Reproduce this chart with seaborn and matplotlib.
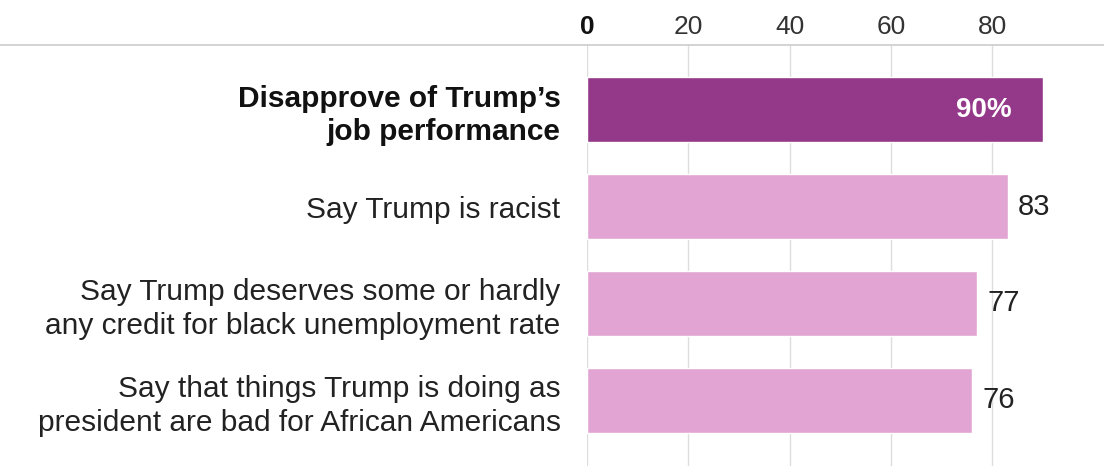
import matplotlib
matplotlib.use("Agg")
import matplotlib.pyplot as plt
import seaborn as sns
import pandas as pd

categories = [
    "Disapprove of Trump\u2019s\njob performance",
    "Say Trump is racist",
    "Say Trump deserves some or hardly\nany credit for black unemployment rate",
    "Say that things Trump is doing as\npresident are bad for African Americans",
]
values = [90, 83, 77, 76]
value_labels = ["90%", "83", "77", "76"]
xticks = [0, 20, 40, 60, 80]
bar_colors = ["#94398A", "#E2A5D3", "#E2A5D3", "#E2A5D3"]

sns.set_theme(style="white")
plt.rcParams["font.family"] = ["Liberation Sans", "DejaVu Sans"]

df = pd.DataFrame({"cat": categories, "val": values})

fig = plt.figure(figsize=(11.04, 4.66), dpi=100)
ax = fig.add_axes([587 / 1104, 0.0, 1 - 587 / 1104, 1 - 45 / 466])

sns.barplot(data=df, y="cat", x="val", hue="cat", palette=bar_colors,
            orient="h", width=0.67, legend=False, ax=ax, saturation=1)

ax.set_xlim(0, 102)
ax.set_ylim(3.68, -0.67)
ax.set_xlabel("")
ax.set_ylabel("")
for s in ax.spines.values():
    s.set_visible(False)

ax.xaxis.tick_top()
ax.set_xticks(xticks)
ax.set_xticklabels([str(t) for t in xticks], fontsize=19, color="#333333")
ax.get_xticklabels()[0].set_fontweight("bold")
ax.get_xticklabels()[0].set_color("#111111")
ax.tick_params(axis="x", length=0, pad=4)
ax.grid(axis="x", color="#dddddd", linewidth=1)
ax.set_axisbelow(True)

ax.set_yticks(range(len(categories)))
ax.set_yticklabels(categories, fontsize=21.5, color="#222222", linespacing=1.25)
ax.tick_params(axis="y", length=0, pad=19)
ax.get_yticklabels()[0].set_fontweight("bold")
ax.get_yticklabels()[0].set_color("#111111")

# top rule
fig.add_artist(plt.Line2D([0, 1], [1 - 45 / 466, 1 - 45 / 466], color="#cccccc",
                          linewidth=1.2, transform=fig.transFigure))

for i, (v, lab) in enumerate(zip(values, value_labels)):
    if i == 0:
        ax.text(v - 6.3, i, lab, ha="right", va="center", fontsize=20,
                fontweight="bold", color="white")
    else:
        ax.text(v + 2, i, lab, ha="left", va="center", fontsize=21, color="#222222")

fig.savefig("out.png", dpi=100)
